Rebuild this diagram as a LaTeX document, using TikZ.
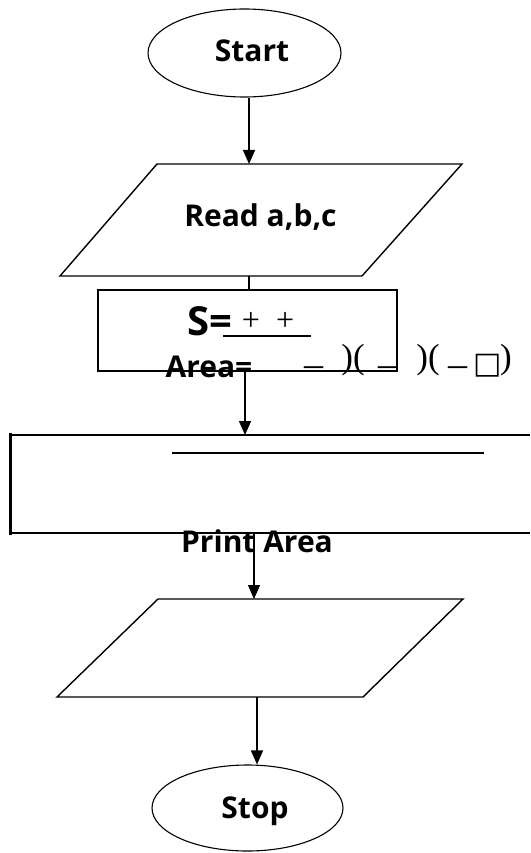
\documentclass[tikz,border=0pt]{standalone}
\usepackage{fontspec}
\setmainfont{Open Sans}
\newfontfamily\serifm{Liberation Serif}
\newfontfamily\symf{DejaVu Sans}
\usetikzlibrary{arrows.meta,shapes.geometric}
\begin{document}
\begin{tikzpicture}[x=1pt,y=-1pt,
  line/.style={line width=1.4pt},
  arr/.style={line, -{Triangle[width=12pt,length=14pt]}},
  term/.style={draw, ellipse, line width=1.1pt, inner sep=0pt},
  lbl/.style={font=\fontsize{30}{36}\selectfont\bfseries, inner sep=0pt, anchor=base},
  mth/.style={font=\fontsize{38}{44}\selectfont\serifm, inner sep=0pt, anchor=base}
]
\useasboundingbox (0,0) rectangle (530,853);
% Start
\node[term, minimum width=193, minimum height=88] (start) at (244.5,53) {};
\node[lbl] (startt) at (252,62) {Start};
% Read parallelogram
\coordinate (readtop) at (249,164);
\coordinate (readbot) at (249,276);
\draw[line] (60,276) -- (157,164) -- (462,164) -- (362,276) -- cycle;
\node[lbl] (read) at (260.5,226) {Read a,b,c};
\draw[arr] (start.south -| readtop) -- (readtop);
% Calc box
\node[draw, line, minimum width=299, minimum height=81, inner sep=0pt] (calc) at (247.5,330.5) {};
\draw[line] (readbot) -- (readbot |- calc.north);
\node[lbl, font=\fontsize{40}{48}\selectfont\bfseries] (s) at (210,335) {S=};
\node[mth, font=\fontsize{32}{36}\selectfont\serifm] (plus) at (268,330) {+\hspace{16pt}+};
\draw[line width=2pt] (223,336) -- (311,336);
\node[lbl] (area) at (209,377) {Area=};
\node[mth] (m1) at (314,376) {–};
\node[mth, font=\fontsize{35}{40}\selectfont\serifm] (p1) at (353,368) {)(};
\node[mth] (m2) at (388,376) {–};
\node[mth, font=\fontsize{35}{40}\selectfont\serifm] (p2) at (428,368) {)(};
\node[mth] (m3) at (457.5,376) {–};
\node[mth, font=\fontsize{30}{34}\selectfont\symf] (sq) at (487.5,373) {□};
\node[mth, font=\fontsize{35}{40}\selectfont\serifm] (p3) at (506,368) {)};
% Big box
\coordinate (boxtop) at (245,435);
\coordinate (boxbot) at (254,533);
\draw[arr] (calc.south -| boxtop) -- (boxtop);
\draw[line] (530,435) -- (10,435) -- (10,533) -- (530,533);
\draw[line width=3pt] (10,433) -- (10,534.5);
\draw[line] (172,453) -- (484,453);
\node[lbl] (print) at (257,552) {Print Area};
% Output parallelogram
\coordinate (outtop) at (254,599);
\coordinate (outbot) at (257,697);
\draw[line] (57,697) -- (158,599) -- (463,599) -- (363,697) -- cycle;
\draw[arr] (boxbot) -- (outtop);
% Stop
\node[term, minimum width=191, minimum height=86] (stop) at (247.5,808) {};
\node[lbl] (stopt) at (255,818) {Stop};
\draw[arr] (outbot) -- (stop.north -| outbot);
\end{tikzpicture}
\end{document}
